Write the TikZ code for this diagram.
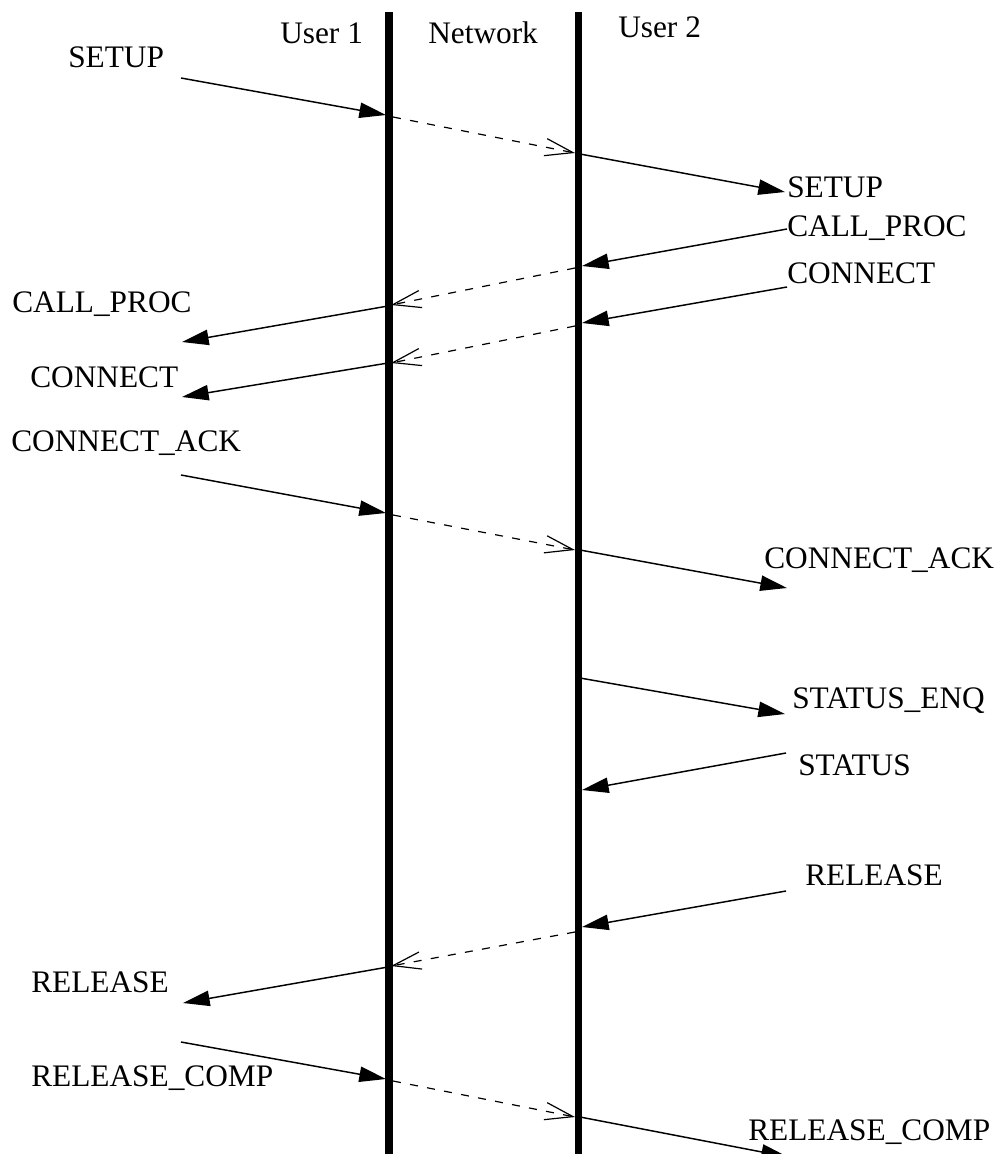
\documentclass[tikz,border=0pt]{standalone}
\usepackage{fontspec}
\setmainfont{Liberation Serif}
\usetikzlibrary{arrows.meta}
\begin{document}
\begin{tikzpicture}[x=0.75pt,y=-0.75pt,
  lifeline/.style={line width=5.8pt},
  msg/.style={line width=1.1pt,-{Triangle[length=20pt,width=11.5pt]}},
  relay/.style={line width=0.9pt,dash pattern=on 6pt off 7pt,
    -{Straight Barb[length=21pt,width=13pt]}},
  lbl/.style={anchor=base west,inner sep=0pt,
    font=\fontsize{23.5pt}{28pt}\selectfont}]
\useasboundingbox (0,0) rectangle (1001,1154);

% lifelines
\coordinate (u1top) at (389,12);   \coordinate (u1bot) at (389,1170);
\coordinate (u2top) at (578.5,12); \coordinate (u2bot) at (578.5,1170);
\draw[lifeline] (u1top) -- (u1bot);
\draw[lifeline] (u2top) -- (u2bot);

% column headings
\node[lbl] (h1) at (280,43) {User 1};
\node[lbl] (h2) at (428,43) {Network};
\node[lbl] (h3) at (618,37) {User 2};

% message labels
\node[lbl] (lSetupA)  at (68,67)    {SETUP};
\node[lbl] (lSetupB)  at (787,197)  {SETUP};
\node[lbl] (lProcB)   at (787,236)  {CALL\_PROC};
\node[lbl] (lConB)    at (787,283)  {CONNECT};
\node[lbl] (lProcA)   at (12,312)   {CALL\_PROC};
\node[lbl] (lConA)    at (30,387)   {CONNECT};
\node[lbl] (lAckA)    at (11,451)   {CONNECT\_ACK};
\node[lbl] (lAckB)    at (764,568)  {CONNECT\_ACK};
\node[lbl] (lEnq)     at (792,708)  {STATUS\_ENQ};
\node[lbl] (lStat)    at (798,775)  {STATUS};
\node[lbl] (lRelB)    at (805,885)  {RELEASE};
\node[lbl] (lRelA)    at (31,992)   {RELEASE};
\node[lbl] (lRcA)     at (31,1086)  {RELEASE\_COMP};
\node[lbl] (lRcB)     at (748,1140) {RELEASE\_COMP};

% end points of the messages
\coordinate (s0) at (181,78);   \coordinate (s1) at (386,115);
\coordinate (s2) at (393,117);  \coordinate (s3) at (575,153);
\coordinate (s4) at (580,154);  \coordinate (s5) at (785,192);

\coordinate (p0) at (787,229);  \coordinate (p1) at (582,266);
\coordinate (p2) at (575,268);  \coordinate (p3) at (391,305);
\coordinate (p4) at (388,306);  \coordinate (p5) at (182,342);

\coordinate (c0) at (787,287);  \coordinate (c1) at (582,323);
\coordinate (c2) at (575,326);  \coordinate (c3) at (391,363);
\coordinate (c4) at (388,363);  \coordinate (c5) at (182,397);

\coordinate (a0) at (181,475);  \coordinate (a1) at (386,513);
\coordinate (a2) at (393,515);  \coordinate (a3) at (575,550);
\coordinate (a4) at (580,550);  \coordinate (a5) at (787,588);

\coordinate (e0) at (580,678);  \coordinate (e1) at (785,714);
\coordinate (t0) at (786,753);  \coordinate (t1) at (582,790);

\coordinate (r0) at (786,891);  \coordinate (r1) at (582,927);
\coordinate (r2) at (575,932);  \coordinate (r3) at (391,966);
\coordinate (r4) at (388,967);  \coordinate (r5) at (183,1003);

\coordinate (k0) at (181,1042); \coordinate (k1) at (386,1079);
\coordinate (k2) at (393,1081); \coordinate (k3) at (575,1117);
\coordinate (k4) at (580,1117); \coordinate (k5) at (788,1157);

% SETUP
\draw[msg] (s0) -- (s1);
\draw[relay] (s2) -- (s3);
\draw[msg] (s4) -- (s5);
% CALL_PROC
\draw[msg] (p0) -- (p1);
\draw[relay] (p2) -- (p3);
\draw[msg] (p4) -- (p5);
% CONNECT
\draw[msg] (c0) -- (c1);
\draw[relay] (c2) -- (c3);
\draw[msg] (c4) -- (c5);
% CONNECT_ACK
\draw[msg] (a0) -- (a1);
\draw[relay] (a2) -- (a3);
\draw[msg] (a4) -- (a5);
% STATUS_ENQ / STATUS
\draw[msg] (e0) -- (e1);
\draw[msg] (t0) -- (t1);
% RELEASE
\draw[msg] (r0) -- (r1);
\draw[relay] (r2) -- (r3);
\draw[msg] (r4) -- (r5);
% RELEASE_COMP
\draw[msg] (k0) -- (k1);
\draw[relay] (k2) -- (k3);
\draw[msg] (k4) -- (k5);
\end{tikzpicture}
\end{document}
